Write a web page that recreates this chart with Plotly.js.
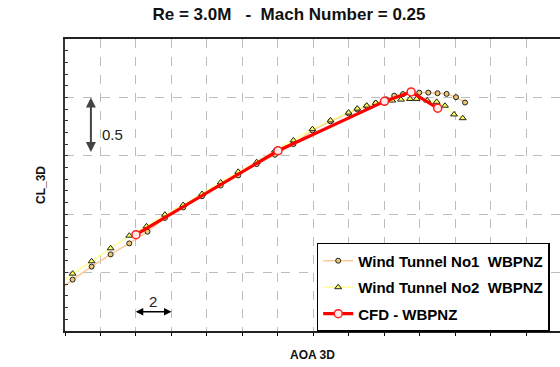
<!DOCTYPE html>
<html>
<head>
<meta charset="utf-8">
<script src="https://cdn.plot.ly/plotly-3.0.1.min.js"></script>
<style>html,body{margin:0;padding:0;background:#fff;}#chart{width:560px;height:367px;}</style>
</head>
<body>
<div id="chart"></div>
<script>
// Wind Tunnel No1 WBPNZ
const aoaWT1 = [-4.64, -3.57, -2.50, -1.43, -0.38, 0.65, 1.63, 2.66, 3.72, 4.77, 5.76, 6.80, 7.83, 8.87, 9.94, 10.96, 11.98, 12.47, 13.0, 13.51, 14.1, 14.55, 15.04, 15.49, 15.96, 16.47, 16.99, 17.5, 18.03, 18.54];
const clWT1 = [-0.186, -0.060, 0.051, 0.156, 0.250, 0.350, 0.468, 0.558, 0.654, 0.745, 0.832, 0.929, 1.009, 1.100, 1.218, 1.295, 1.363, 1.397, 1.423, 1.449, 1.483, 1.515, 1.528, 1.537, 1.541, 1.541, 1.536, 1.530, 1.502, 1.456];
// Wind Tunnel No2 WBPNZ
const aoaWT2 = [-4.64, -3.57, -2.50, -1.43, -0.38, 0.59, 1.63, 2.66, 3.72, 4.77, 5.76, 6.80, 7.83, 8.87, 9.94, 10.96, 11.98, 12.47, 13.0, 13.51, 13.97, 14.44, 14.93, 15.44, 15.81, 16.41, 16.94, 17.41, 17.92, 18.41];
const clWT2 = [-0.14, -0.009, 0.097, 0.208, 0.316, 0.396, 0.496, 0.579, 0.673, 0.772, 0.863, 0.946, 1.045, 1.132, 1.228, 1.303, 1.370, 1.404, 1.430, 1.453, 1.470, 1.473, 1.481, 1.487, 1.487, 1.474, 1.462, 1.429, 1.354, 1.322];
// CFD - WBPNZ
const aoaCFD = [0, 8, 14, 15.5, 17];
const clCFD = [0.325, 1.043, 1.466, 1.547, 1.408];

const seriesNames = ['Wind Tunnel No1\u00A0\u00A0WBPNZ', 'Wind Tunnel No2\u00A0\u00A0WBPNZ', 'CFD - WBPNZ'];

const traces = [
  {x: aoaWT1, y: clWT1, name: seriesNames[0], type: 'scatter', mode: 'lines+markers', legendgroup: 'a',
   line: {color: '#FFC896', width: 1.5},
   marker: {symbol: 'circle', size: 5, color: '#E8C870', line: {color: '#222', width: 1}}},
  {x: aoaWT2, y: clWT2, name: seriesNames[1], type: 'scatter', mode: 'lines+markers', legendgroup: 'b',
   line: {color: '#FFFF99', width: 1.5},
   marker: {symbol: 'triangle-up', size: 6, color: '#FFFF55', line: {color: '#222', width: 1}}},
  {x: aoaCFD, y: clCFD, name: seriesNames[2], type: 'scatter', mode: 'lines+markers', legendgroup: 'c',
   line: {color: '#FF0000', width: 3.2},
   marker: {symbol: 'circle', size: 8, color: 'rgba(255,235,235,1)', line: {color: '#FF2020', width: 1.5}}}
];

const layout = {
  width: 560, height: 367,
  margin: {l: 65, r: 0, t: 39, b: 35.5},
  paper_bgcolor: '#fff', plot_bgcolor: '#fff',
  font: {family: 'Liberation Sans, Arial, sans-serif', color: '#000'},
  title: {text: 'Re = 3.0M\u00A0\u00A0\u00A0-\u00A0\u00A0Mach Number = 0.25', x: 0.516, xanchor: 'center', xref: 'container',
          y: 1 - 14/367, yanchor: 'middle', yref: 'container',
          font: {family: 'Liberation Sans, Arial, sans-serif', size: 17, weight: 'bold', color: '#111'}},
  xaxis: {range: [-4, 23.89], dtick: 2, tick0: 0, showticklabels: false,
          ticks: 'outside', ticklen: 3, tickcolor: '#000', tickwidth: 1,
          showgrid: true, gridcolor: '#BDBDBD', griddash: 'dash', gridwidth: 1,
          showline: true, linecolor: '#222', linewidth: 2, mirror: true, zeroline: false,
          title: {text: 'AOA 3D', standoff: 16, font: {size: 12, weight: 'bold', color: '#111'}}},
  yaxis: {range: [-0.5, 2.0], dtick: 0.5, tick0: 0, showticklabels: false,
          ticks: 'inside', ticklen: 3, tickcolor: '#333', tickwidth: 1,
          minor: {dtick: 0.1, ticks: 'inside', ticklen: 3, tickcolor: '#333', showgrid: false},
          showgrid: true, gridcolor: '#BDBDBD', griddash: 'dash', gridwidth: 1,
          showline: true, linecolor: '#333', linewidth: 2, zeroline: false,
          title: {text: 'CL_3D', standoff: 15, font: {size: 12, weight: 'bold', color: '#111'}}},
  legend: {x: 0.5085, xanchor: 'left', y: 0.3015, yanchor: 'top', bgcolor: '#fff',
           bordercolor: '#000', borderwidth: 1.5, tracegroupgap: 4, itemwidth: 30,
           font: {family: 'Liberation Sans, Arial, sans-serif', size: 15, weight: 'bold', color: '#000'}},
  annotations: [
    {x: -2.54, y: 1.5, ax: -2.54, ay: 1.02, xref: 'x', yref: 'y', axref: 'x', ayref: 'y', text: '',
     showarrow: true, arrowhead: 2, startarrowhead: 2, arrowside: 'end+start', arrowsize: 1, arrowwidth: 2, arrowcolor: '#444'},
    {x: -1.35, y: 1.18, xref: 'x', yref: 'y', text: '0.5', showarrow: false,
     font: {size: 15, color: '#222'}},
    {x: 2, y: -0.335, ax: -0.1, ay: -0.335, xref: 'x', yref: 'y', axref: 'x', ayref: 'y', text: '',
     showarrow: true, arrowhead: 2, startarrowhead: 2, arrowside: 'end+start', arrowsize: 1, arrowwidth: 1.5, arrowcolor: '#000'},
    {x: 0.95, y: -0.245, xref: 'x', yref: 'y', text: '2', showarrow: false,
     font: {size: 15, color: '#222'}}
  ],
  showlegend: true
};

Plotly.newPlot('chart', traces, layout, {displayModeBar: false, staticPlot: true});
</script>
</body>
</html>
